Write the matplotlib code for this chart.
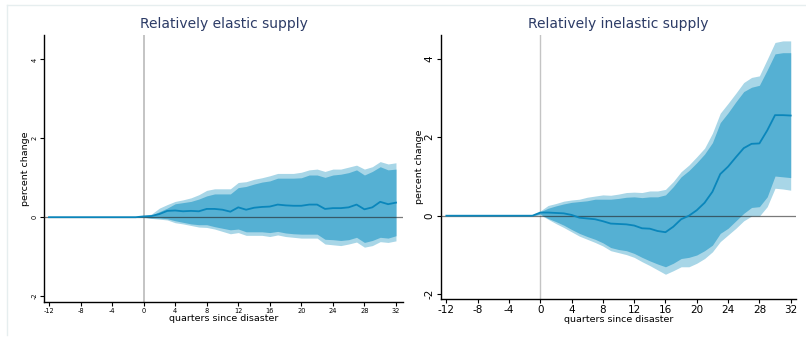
import numpy as np
import matplotlib.pyplot as plt
from matplotlib.lines import Line2D

# event time in quarters relative to the disaster
quarters = list(range(-12, 33))

# relatively elastic supply: point estimate with inner / outer confidence bands
elastic_est = [0, 0, 0, 0, 0, 0, 0, 0, 0, 0, 0, 0,
               0.02, 0.03, 0.08, 0.16, 0.17, 0.15, 0.16, 0.15, 0.21, 0.21, 0.19, 0.14,
               0.25, 0.19, 0.24, 0.26, 0.27, 0.32, 0.30, 0.29, 0.29, 0.32, 0.32, 0.21,
               0.23, 0.23, 0.25, 0.32, 0.20, 0.25, 0.39, 0.33, 0.37]
elastic_hi_in = [0, 0, 0, 0, 0, 0, 0, 0, 0, 0, 0, 0,
                 0.03, 0.05, 0.14, 0.23, 0.34, 0.37, 0.40, 0.46, 0.54, 0.59, 0.59, 0.59,
                 0.75, 0.78, 0.84, 0.89, 0.92, 0.99, 0.99, 0.99, 1.00, 1.07, 1.07, 1.01,
                 1.07, 1.09, 1.13, 1.20, 1.07, 1.16, 1.28, 1.20, 1.22]
elastic_hi_out = [0, 0, 0, 0, 0, 0, 0, 0, 0, 0, 0, 0,
                  0.04, 0.08, 0.23, 0.32, 0.40, 0.44, 0.49, 0.57, 0.68, 0.72, 0.72, 0.72,
                  0.88, 0.90, 0.96, 1.00, 1.05, 1.11, 1.11, 1.11, 1.14, 1.20, 1.22, 1.16,
                  1.22, 1.22, 1.27, 1.32, 1.22, 1.28, 1.41, 1.35, 1.38]
elastic_lo_in = [0, 0, 0, 0, 0, 0, 0, 0, 0, 0, 0, 0,
                 0.00, -0.02, -0.02, -0.04, -0.09, -0.13, -0.17, -0.19, -0.19, -0.24, -0.28, -0.32,
                 -0.30, -0.37, -0.37, -0.37, -0.39, -0.36, -0.40, -0.42, -0.43, -0.43, -0.43, -0.56,
                 -0.57, -0.59, -0.57, -0.51, -0.64, -0.59, -0.51, -0.53, -0.47]
elastic_lo_out = [0, 0, 0, 0, 0, 0, 0, 0, 0, 0, 0, 0,
                  -0.01, -0.03, -0.05, -0.07, -0.14, -0.17, -0.21, -0.25, -0.26, -0.30, -0.36, -0.42,
                  -0.39, -0.46, -0.46, -0.46, -0.49, -0.45, -0.49, -0.51, -0.53, -0.53, -0.53, -0.68,
                  -0.70, -0.72, -0.68, -0.63, -0.76, -0.72, -0.62, -0.64, -0.60]

# relatively inelastic supply
inelastic_est = [0, 0, 0, 0, 0, 0, 0, 0, 0, 0, 0, 0,
                 0.08, 0.08, 0.07, 0.06, 0.02, -0.05, -0.07, -0.09, -0.14, -0.20, -0.21, -0.22,
                 -0.25, -0.32, -0.33, -0.39, -0.42, -0.28, -0.09, 0.00, 0.14, 0.33, 0.61, 1.06,
                 1.25, 1.49, 1.72, 1.83, 1.84, 2.17, 2.56, 2.56, 2.55]
inelastic_hi_in = [0, 0, 0, 0, 0, 0, 0, 0, 0, 0, 0, 0,
                   0.10, 0.19, 0.25, 0.30, 0.34, 0.36, 0.38, 0.42, 0.42, 0.42, 0.44, 0.47,
                   0.48, 0.46, 0.48, 0.48, 0.53, 0.74, 0.99, 1.15, 1.35, 1.57, 1.86, 2.37,
                   2.62, 2.90, 3.16, 3.27, 3.32, 3.71, 4.12, 4.15, 4.15]
inelastic_hi_out = [0, 0, 0, 0, 0, 0, 0, 0, 0, 0, 0, 0,
                    0.12, 0.26, 0.31, 0.37, 0.40, 0.42, 0.47, 0.50, 0.53, 0.52, 0.55, 0.59,
                    0.60, 0.59, 0.63, 0.63, 0.67, 0.87, 1.12, 1.29, 1.50, 1.72, 2.10, 2.61,
                    2.86, 3.12, 3.39, 3.52, 3.56, 3.98, 4.41, 4.45, 4.45]
inelastic_lo_in = [0, 0, 0, 0, 0, 0, 0, 0, 0, 0, 0, 0,
                   0.04, -0.07, -0.15, -0.24, -0.35, -0.45, -0.53, -0.60, -0.69, -0.81, -0.86, -0.89,
                   -0.96, -1.06, -1.15, -1.23, -1.30, -1.21, -1.09, -1.06, -1.00, -0.89, -0.75, -0.45,
                   -0.32, -0.13, 0.06, 0.21, 0.23, 0.48, 1.01, 0.99, 0.97]
inelastic_lo_out = [0, 0, 0, 0, 0, 0, 0, 0, 0, 0, 0, 0,
                    0.02, -0.09, -0.20, -0.30, -0.41, -0.52, -0.60, -0.68, -0.77, -0.89, -0.94, -0.99,
                    -1.06, -1.17, -1.27, -1.38, -1.49, -1.40, -1.30, -1.30, -1.21, -1.09, -0.92, -0.66,
                    -0.49, -0.32, -0.13, -0.01, -0.01, 0.23, 0.70, 0.68, 0.65]

xticks = list(range(-12, 33, 4))
yticks = [-2, 0, 2, 4]

light_blue = '#a8d6e7'
mid_blue = '#55b0d3'
line_blue = '#0a86bb'
title_color = '#2c3b66'

fig = plt.figure(figsize=(8.06, 3.37), dpi=100)

panels = [
    dict(rect=[0.0546, 0.1039, 0.4454, 0.7922], title='Relatively elastic supply',
         xlim=(-12.63, 32.89), ylim=(-2.15, 4.62), tick_fs=4.8, lab_fs=6.8, ypad=1.0,
         est=elastic_est, hi_in=elastic_hi_in, hi_out=elastic_hi_out,
         lo_in=elastic_lo_in, lo_out=elastic_lo_out, vlw=1.4),
    dict(rect=[0.5468, 0.1128, 0.4408, 0.7833], title='Relatively inelastic supply',
         xlim=(-12.72, 32.68), ylim=(-2.12, 4.60), tick_fs=7.5, lab_fs=6.8, ypad=0.5,
         est=inelastic_est, hi_in=inelastic_hi_in, hi_out=inelastic_hi_out,
         lo_in=inelastic_lo_in, lo_out=inelastic_lo_out, vlw=1.0),
]

x = np.array(quarters)
for p in panels:
    ax = fig.add_axes(p['rect'])
    ax.axvline(0, color='#c4c4c4', lw=p['vlw'], zorder=1)
    ax.fill_between(x, p['lo_out'], p['hi_out'], color=light_blue, lw=0, zorder=2)
    ax.fill_between(x, p['lo_in'], p['hi_in'], color=mid_blue, lw=0, zorder=3)
    ax.axhline(0, color='#222222', lw=0.9, alpha=0.6, zorder=4)
    ax.plot(x, p['est'], color=line_blue, lw=1.3, zorder=5)

    ax.set_xlim(*p['xlim'])
    ax.set_ylim(*p['ylim'])
    ax.set_xticks(xticks)
    ax.set_yticks(yticks)
    ax.set_xticklabels([str(t) for t in xticks], fontsize=p['tick_fs'])
    ax.set_yticklabels([str(t) for t in yticks], fontsize=p['tick_fs'],
                       rotation=90, va='center')
    ax.tick_params(length=3, width=0.8, pad=1.5)
    for side in ['top', 'right']:
        ax.spines[side].set_visible(False)
    ax.spines['left'].set_linewidth(1.0)
    ax.spines['bottom'].set_linewidth(1.0)

    ax.set_xlabel('quarters since disaster', fontsize=p['lab_fs'], labelpad=-0.5)
    ax.set_ylabel('percent change', fontsize=p['lab_fs'], labelpad=p['ypad'])
    ax.set_title(p['title'], fontsize=10, color=title_color, pad=5)

# faint card border along the top and left edges
fig.add_artist(Line2D([7 / 806, 1], [1 - 5 / 337, 1 - 5 / 337],
                      color='#e6eeef', lw=1.0, transform=fig.transFigure))
fig.add_artist(Line2D([7 / 806, 7 / 806], [0.005, 1 - 5 / 337],
                      color='#e6eeef', lw=1.0, transform=fig.transFigure))

fig.savefig('out.png', dpi=100)
